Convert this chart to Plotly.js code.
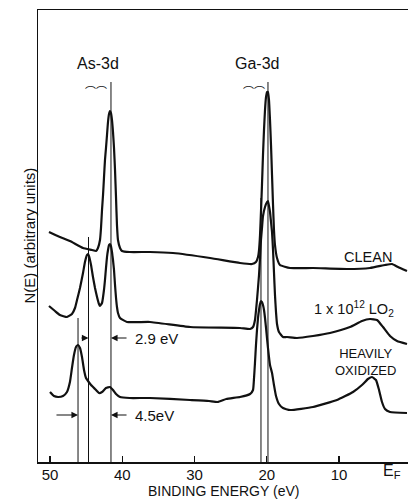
<!DOCTYPE html>
<html>
<head>
<meta charset="utf-8">
<script src="https://cdn.plot.ly/plotly-3.0.1.min.js"></script>
<style>html,body{margin:0;padding:0;background:#fff;}#chart{width:408px;height:499px;}</style>
</head>
<body>
<div id="chart"></div>
<script>
// Binding energy (eV) and N(E) (arbitrary units)
const cleanE = [50.14,48.62,47.24,45.43,44.19,43.63,43.36,43.08,42.94,42.80,42.66,42.53,42.39,42.25,42.11,41.97,41.83,41.70,41.56,41.42,41.28,41.14,41.00,40.86,40.73,40.59,40.31,40.03,38.98,36.16,32.98,27.85,23.70,22.04,21.49,21.21,21.07,20.93,20.80,20.66,20.52,20.38,20.24,20.10,19.96,19.83,19.69,19.55,19.41,19.27,19.13,19.00,18.86,18.58,18.17,16.78,13.60,8.89,5.71,3.63,2.66,1.84,0.59];
const cleanN = [230,225,221,214,212,211,214,222,234,252,267,284,302,314,327,340,348,351,349,342,330,314,292,264,237,222,214,211,210,210,209,204,199,198,200,205,212,227,250,277,307,332,352,365,370,370,362,342,317,287,257,232,217,204,197,194,194,193,194,197,198,195,191];

const lo2E = [50.14,49.31,48.62,47.65,46.96,46.54,46.26,45.85,45.43,45.16,44.88,44.74,44.60,44.32,44.05,43.77,43.49,43.22,43.08,42.80,42.53,42.39,42.25,42.11,41.97,41.83,41.70,41.56,41.42,41.28,41.14,41.00,40.86,40.73,40.59,40.31,39.34,36.16,30.62,23.70,22.31,21.90,21.63,21.35,21.07,20.93,20.80,20.66,20.52,20.24,19.96,19.83,19.69,19.55,19.41,19.27,19.13,19.00,18.86,18.72,18.58,18.31,17.75,17.20,15.81,13.60,11.25,8.48,6.82,5.71,4.74,3.91,2.94,1.97,0.59];
const lo2N = [156,151,147,145,148,154,162,174,189,200,207,208,206,197,185,174,165,158,156,159,172,182,194,205,212,217,218,216,210,202,192,177,164,155,149,144,140,140,135,134,133,135,142,162,187,204,222,234,246,255,260,261,256,250,240,230,212,190,167,150,138,130,125,125,124,126,129,135,141,143,142,135,126,121,118];

const oxE = [50.00,49.45,48.89,48.20,47.65,47.24,46.96,46.68,46.40,46.12,45.85,45.57,45.29,45.02,44.74,44.32,43.77,43.22,42.80,42.25,41.70,41.28,40.86,40.31,38.98,36.16,30.62,28.00,26.80,25.60,23.70,22.31,21.90,21.76,21.63,21.49,21.35,21.21,21.07,20.93,20.80,20.66,20.52,20.38,20.24,20.10,19.83,19.55,19.27,19.00,18.72,18.31,17.75,16.78,13.60,10.28,8.06,6.82,5.99,5.43,4.88,4.46,4.05,3.63,2.94,0.59];
const oxN = [70,66,65,66,70,80,94,107,115,117,114,105,92,84,81,77,73,69,70,74,75,72,68,65,64,64,62,61,60,63,65,68,72,84,99,117,132,144,152,158,161,160,157,152,144,134,114,97,89,77,66,58,54,52,55,62,70,77,83,85,82,72,60,53,50,49];

// vertical reference lines: energy and top
const refLineE = [46.12, 44.67, 41.56, 20.80, 19.83];
const refLineTop = [144, 225, 380, 264, 380];

const tickVals = [50, 40, 30, 20, 10];
const tickText = ['50', '40', '30', '20', '10'];

const curveStyle = {color: '#111', width: 2.2, shape: 'spline', smoothing: 0.4};
const traces = [
  {x: cleanE, y: cleanN, mode: 'lines', line: curveStyle, hoverinfo: 'skip'},
  {x: lo2E, y: lo2N, mode: 'lines', line: curveStyle, hoverinfo: 'skip'},
  {x: oxE, y: oxN, mode: 'lines', line: curveStyle, hoverinfo: 'skip'}
];
refLineE.forEach((e, i) => {
  traces.push({x: [e, e], y: [refLineTop[i], 0], mode: 'lines', line: {color: '#111', width: 1}, hoverinfo: 'skip'});
});

const F = 'Liberation Sans, Arial, sans-serif';
const txt = (x, y, text, opts) => Object.assign({x, y, xref: 'x', yref: 'y', text, showarrow: false, font: {family: F, size: 14, color: '#111'}}, opts || {});
const arrow = (x, y, ax, ay) => ({x, y, ax, ay, xref: 'x', yref: 'y', axref: 'x', ayref: 'y', text: '', showarrow: true, arrowhead: 2, arrowsize: 1.1, arrowwidth: 1.2, arrowcolor: '#111', standoff: 0, startstandoff: 0});
const arcFont = {family: 'Noto Sans CJK SC', size: 11, color: '#111'};

const annotations = [
  txt(43.40, 399, 'As-3d', {font: {family: F, size: 16, color: '#111'}}),
  txt(21.30, 399, 'Ga-3d', {font: {family: F, size: 16, color: '#111'}}),
  txt(43.63, 379, '︵︵', {font: arcFont}),
  txt(21.76, 379, '︵︵', {font: arcFont}),
  txt(2.45, 205, 'CLEAN', {xanchor: 'right', font: {family: F, size: 14.5, color: '#111'}}),
  txt(2.05, 153, '1 x 10<sup>12</sup> LO<sub>2</sub>', {xanchor: 'right', font: {family: F, size: 14.5, color: '#111'}}),
  txt(6.35, 100, 'HEAVILY<br>OXIDIZED', {font: {family: F, size: 13, color: '#111'}}),
  arrow(44.67, 124, 45.85, 124),
  arrow(41.56, 124, 39.20, 124),
  txt(38.51, 124, '2.9 eV', {xanchor: 'left', font: {family: F, size: 15, color: '#111'}}),
  arrow(46.12, 47, 49.31, 47),
  arrow(41.56, 47, 39.20, 47),
  txt(38.51, 47, '4.5eV', {xanchor: 'left', font: {family: F, size: 15, color: '#111'}}),
  {x: 2.66, y: 0, xref: 'x', yref: 'paper', yanchor: 'middle', yshift: -9, text: 'E<sub>F</sub>', showarrow: false, font: {family: F, size: 16, color: '#111'}},
  {x: 0.5, y: 0, xref: 'paper', yref: 'paper', yanchor: 'middle', yshift: -29, text: 'BINDING ENERGY (eV)', showarrow: false, font: {family: F, size: 14, color: '#111'}},
  {x: 0, y: 0.5, xref: 'paper', yref: 'paper', xshift: -20, textangle: -90, text: 'N(E) (arbitrary units)', showarrow: false, font: {family: F, size: 15, color: '#111'}}
];

const layout = {
  width: 408, height: 499,
  margin: {l: 38, r: 0, t: 10, b: 37},
  paper_bgcolor: '#fff', plot_bgcolor: '#fff',
  showlegend: false,
  xaxis: {
    range: [51.66, 0.45], showgrid: false, zeroline: false,
    showline: true, mirror: true, linecolor: '#111', linewidth: 1.5,
    ticks: 'inside', ticklen: 6, tickwidth: 1.2, tickcolor: '#111',
    tickvals: tickVals, ticktext: tickText, ticklabelstandoff: -2,
    tickfont: {family: F, size: 15, color: '#111'}
  },
  yaxis: {
    range: [0, 452], showgrid: false, zeroline: false,
    showline: true, linecolor: '#111', linewidth: 1.5,
    ticks: '', showticklabels: false
  },
  annotations: annotations
};

Plotly.newPlot('chart', traces, layout, {staticPlot: true});
</script>
</body>
</html>
